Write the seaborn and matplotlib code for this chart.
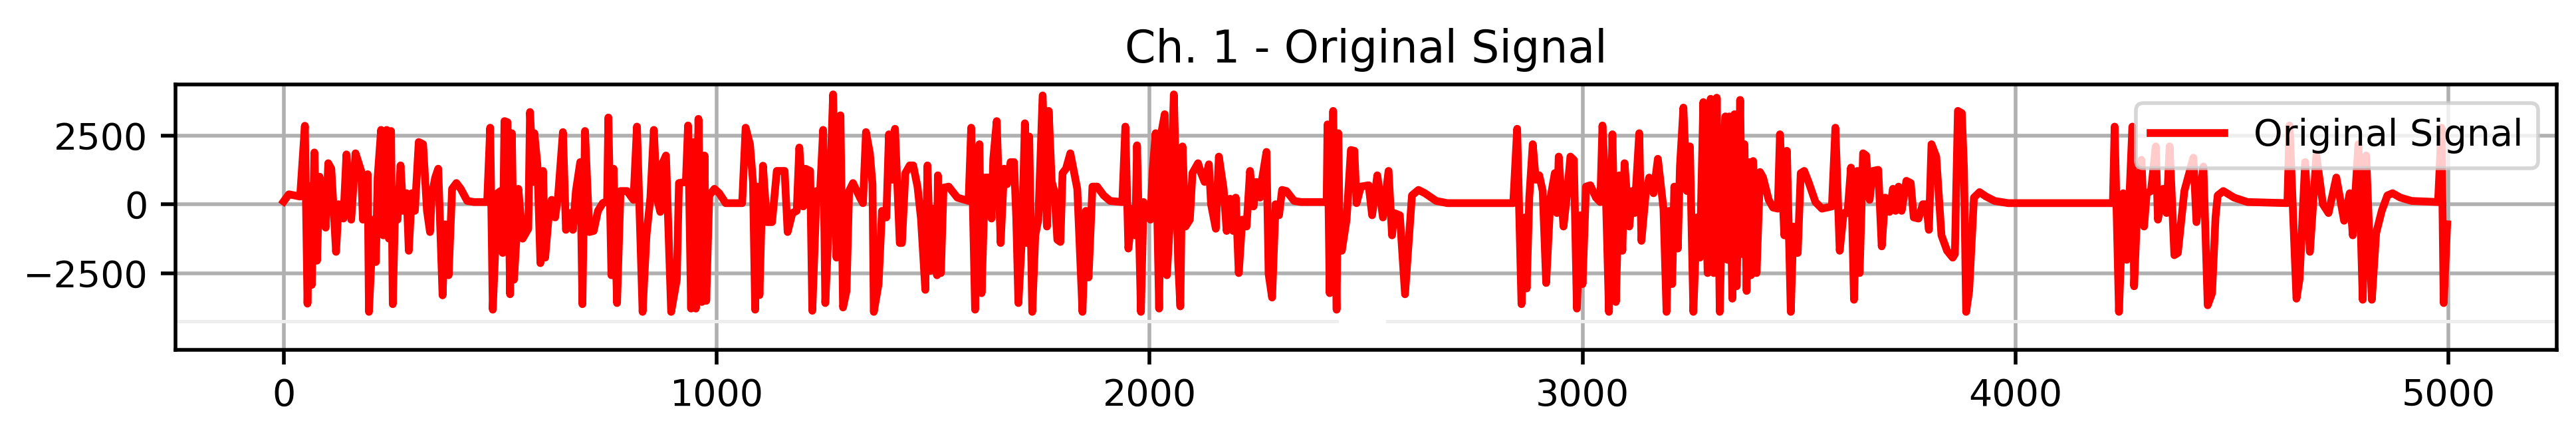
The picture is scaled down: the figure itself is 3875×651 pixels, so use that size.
import matplotlib
matplotlib.use("Agg")
import matplotlib.pyplot as plt
import seaborn as sns
import pandas as pd

# ---- data (sample index, amplitude) ----
sig_x = [0, 12, 38, 49, 55, 61, 65, 71, 77, 83, 86, 92, 97, 103, 110, 121, 127, 138, 145, 156, 166, 179, 183, 194, 197,
         207, 213, 217, 225, 230, 238, 243, 248, 252, 257, 263, 270, 276, 284, 289, 296, 303, 312, 322, 331, 338, 342,
         350, 357, 367, 373, 381, 389, 399, 409, 424, 440, 470, 477, 483, 494, 501, 506, 510, 517, 523, 527, 532, 538, 542,
         552, 565, 569, 577, 579, 586, 593, 599, 604, 611, 619, 627, 634, 645, 652, 661, 668, 675, 685, 690, 696, 706,
         716, 726, 737, 747, 750, 757, 762, 770, 778, 793, 808, 816, 829, 838, 847, 855, 862, 870, 874, 883, 895, 908,
         913, 929, 934, 941, 947, 952, 958, 966, 972, 976, 983, 995, 1006, 1021, 1059, 1067, 1077, 1084, 1089, 1094,
         1099, 1107,
         1116, 1128, 1139, 1157, 1164, 1175, 1185, 1191, 1200, 1205, 1216, 1221, 1231, 1239, 1246, 1251, 1258, 1269,
         1277, 1286, 1292, 1300, 1306, 1315, 1331, 1338, 1345, 1354, 1360, 1363, 1374, 1382, 1392, 1398, 1405, 1412,
         1423, 1428, 1436, 1446, 1454, 1464, 1472, 1482, 1487, 1494, 1500, 1509, 1511, 1518, 1524, 1536, 1556, 1582,
         1588, 1597, 1602, 1607, 1612, 1620, 1630, 1635, 1639, 1647, 1656, 1664,
         1671, 1679, 1687, 1692, 1697, 1705, 1712, 1717, 1722, 1729, 1736, 1743, 1753, 1763, 1767, 1774, 1780, 1787,
         1794, 1799, 1807, 1817, 1825, 1833, 1845, 1853, 1859, 1868, 1879, 1894, 1909, 1937, 1944, 1951, 1961, 1967,
         1971, 1980, 1986, 2002, 2007, 2014, 2022, 2027, 2035, 2040, 2047, 2056, 2066, 2071, 2076, 2083, 2093, 2099,
         2112, 2119, 2127, 2137, 2142, 2153, 2160, 2171, 2178, 2186, 2193, 2199, 2206, 2214,
         2224, 2232, 2240, 2247, 2255, 2260, 2270, 2275, 2283, 2291, 2299, 2306, 2316, 2334, 2350, 2409, 2411, 2416,
         2424, 2432, 2436, 2439, 2444, 2455, 2465, 2473, 2478, 2488, 2506, 2514, 2526, 2539, 2552, 2560, 2565, 2578,
         2590, 2606, 2621, 2636, 2662, 2688, 2773,
         2840, 2849, 2859, 2867, 2871, 2877, 2885, 2892, 2900, 2908, 2916, 2926, 2936, 2941, 2945, 2956, 2964, 2972,
         2980, 2987, 2995, 3000, 3008, 3018, 3031, 3041, 3046, 3054, 3061, 3069, 3077, 3085, 3092, 3097, 3108, 3115,
         3120, 3131, 3136, 3146, 3154, 3164, 3174, 3187, 3194, 3200, 3207, 3212, 3220, 3225, 3233, 3241, 3248, 3256,
         3264, 3271, 3279, 3289, 3296, 3303, 3310, 3317,
         3325, 3330, 3335, 3339, 3346, 3351, 3356, 3364, 3369, 3374, 3379, 3384, 3389, 3394, 3402, 3410, 3417, 3430,
         3440, 3451, 3456, 3466, 3472, 3481, 3487, 3497, 3504, 3512, 3522, 3538, 3553, 3576, 3584, 3594, 3603, 3612,
         3620, 3627, 3635, 3640, 3648, 3655, 3663, 3671, 3683, 3691, 3699, 3709, 3717, 3723, 3730, 3737, 3748, 3758,
         3765, 3776, 3786, 3794, 3800, 3806, 3817, 3829, 3842, 3855, 3860, 3867,
         3876, 3881, 3886, 3893, 3904, 3917, 3932, 3952, 3983, 4225, 4229, 4239, 4249, 4257, 4270, 4274, 4280, 4291,
         4297, 4303, 4313, 4324, 4329, 4341, 4349, 4356, 4367, 4375, 4390, 4411,
         4418, 4434, 4444, 4454, 4462, 4467, 4480, 4505, 4536, 4628, 4633, 4649, 4656, 4669, 4680, 4695, 4710, 4723,
         4741, 4759, 4772, 4779, 4792, 4802, 4810, 4823, 4833, 4846, 4859, 4871, 4889, 4915, 4976, 4984, 4989, 4997]

sig_y = [100, 360, 280, 2850, -3610, 650, -2930, 1880, -2050, 1000, -320, 730, -850, 1490, 1290, -1730, 0, -520, 1810,
         -560, 1850, 1210, -560, 1090, -3910, -560, -2100, 970, 2700, -1130, 2700, -1250, 2660, -3630, -400, -560, 1410,
         -240, 400, -1690, 400, -240, 2260, 2180, -240, -1010, 320, 970, 1290, -3310, -730, -2580, 560, 770, 560, 120,
         80, 80, 2780, -3830, 400, 480, -1770, 3020, 2980, -3270, 2580, -2740, -1130, 560,
         -1250, -890, 3350, 810, 2580, 1450, -2140, 1210, -1940, -650, 160, -480, 320, 2620, -930, -320, -930, 480,
         1530, -3630, 2660, -1010, -970, -240, 40, 120, 3150, -2580, 1290, -3590, 480, 480, 160, 2820, -3910, -1130,
         240, 2700, 240, -280, 1450, 1770, -3910, -2740, 770, 810, 2860, -3790, 2260, -3790, 3100, -3550, 1770, -3510,
         320, 560, 400, 40, 40, 2780, 2180, 810, -3830, 640, -3300, 1400,
         -650, -650, 1210, 1210, -1010, -320, -240, 2060, -80, 1290, 1210, -3870, 480, 480, 2700, -3590, -1130, 3990,
         -1940, 3230, -3750, -3150, 480, 770, 240, 40, 2620, 1850, 730, -3910, -2900, -240, -480, 2540, 890, 2740,
         -1410, -1410, 1130, 1410, 1410, 640, -520, -3110, 1410, -2420, -160, -2580, 1050, -2500, 600, 640, 240, 120,
         2780, -3830, 320, 2180, -3230, 970, 970, -520, 1650, 3020, -1410, 1290,
         730, 1530, 1530, -480, -3590, -1290, 2940, -1410, 2460, -3910, -1130, -560, 3950, -810, 3390, 810, 480, -1290,
         -1370, 1130, 1290, 1850, 1210, 560, -3910, -240, -2660, 640, 640, 320, 120, 80, 2820, -1610, -160, -1130,
         2140, -3910, 80, -560, 1210, 2580, -3790, 2580, 3270, -2580, -650, 3990, -2100, -3710, 2100, -810, -560, 1130,
         1490, 1130, 810, 1450, 0, -890, 1730, 560, -970, 200, -970, 240, -2500, -560,
         -810, 1210, -80, 810, 240, 930, 1900, -2540, -3390, 0, -400, 520, 480, 120, 80, 80, 2900, -3230,
         3390, -3830, 2580, -1130, -1690, -560, 1970, 1940, 40, 640, 690, -400, 1050, -480, 1210, -1130, -320, -400,
         -3270, 320, 520, 400, 120, 40, 40,
         40, 2740, -3630, -480, -3060, 240, 2180, 890, 1050, 480, -2860, 240, 1130, -320, 1730, -810, 320, 1730,
         1610, -3790, -400, -2900, 640, 690, 240, 80, 2860, 320, -3910, 2540, -3550, 1050, -1690, 1490, -810, 480,
         -320, 2580, -1330, 400, 970, 400, 1650, -160, -3910, -240, -2900, 640, -1610, 1370, 3510, 480, 2100, -3910,
         -480, -1940, 3710, -2500, 3830, -2500, 3870, -3910,
         1770, 3190, -2020, 3190, -3430, 3270, -2980, 3790, -1810, 2180, -3150, 1530, -2580, 1570, -2500, 1170, 970, 160,
         -120, -160, 2540, -1130, 1940, -3910, -810, -1770, 1130, 1210, 810, 80, -160, -80, 2780, -1690, -320, -320,
         1330, -3470, 1210, -2500, 1850, 1770, 160, 1210, 1250, -1530, 240, -280, 560, -240, 640, -240, 850, 770,
         -480, -520, 0, 0, -930, 2180, 1730, -1130, -1690, -1940, -1810, 3390,
         3310, 1290, -3910, -3150, 240, 440, 280, 120, 40, 40, 2820, -3910, 400, -2020, 2820, -2980, -650, 1610,
         -810, 400, 480, 2100, -560, 560, -320, 2100, -1850, -1770, 480, 1690,
         -650, 1370, -3670, -3230, -480, 320, 480, 240, 80, 40, 2860, -3430, -2740, 1530, -1730, 1770, 0, -320,
         970, -600, 400, -1130, 2180, -3470, 1770, -3470, -1050, -240, 320, 400, 240, 120, 80, 2780, -3590, -730]

# very faint horizontal trace near the bottom of the axes (with a short break)
faint_level = -4250
faint_spans = [(-250, 2432), (2549, 5250)]

title_text = "Ch. 1 - Original Signal"
legend_label = "Original Signal"
x_ticks = [0, 1000, 2000, 3000, 4000, 5000]
y_ticks = [-2500, 0, 2500]

df = pd.DataFrame({"sample": sig_x, "amplitude": sig_y})

plt.rcParams["font.family"] = ["DejaVu Sans"]
fig = plt.figure(figsize=(3875 / 400, 651 / 400), dpi=400)
ax = fig.add_axes([0.0681, 0.1920, 0.9244, 0.6129])

for x0, x1 in faint_spans:
    ax.plot([x0, x1], [faint_level, faint_level], color="#eeeeee", lw=0.9, zorder=1)

sns.lineplot(data=df, x="sample", y="amplitude", ax=ax, color="red", linewidth=2.1,
             label=legend_label, estimator=None, sort=False, zorder=3)

ax.set_xlim(-250, 5250)
ax.set_ylim(-5290, 4350)
ax.set_xticks(x_ticks)
ax.set_yticks(y_ticks)
ax.set_xlabel("")
ax.set_ylabel("")
ax.grid(True, color="#b0b0b0", linewidth=1.0)
ax.set_axisbelow(True)
for s in ax.spines.values():
    s.set_linewidth(1.0)
ax.tick_params(width=1.0, length=4)
ax.set_title(title_text, fontsize=12)
ax.legend(loc="upper right", fontsize=10)

fig.savefig("out.png", dpi=400)
